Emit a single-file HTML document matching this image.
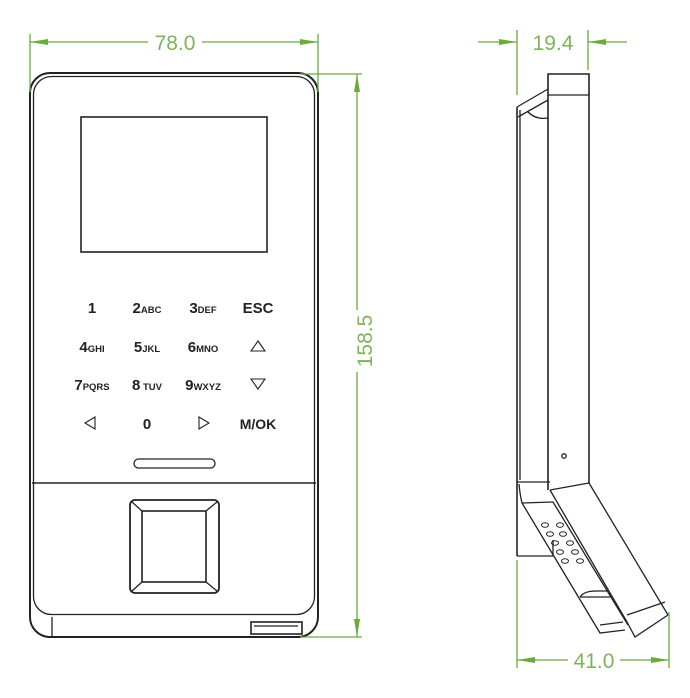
<!DOCTYPE html>
<html><head><meta charset="utf-8"><style>
html,body{margin:0;padding:0;background:#fff;}
svg{display:block;}
text{font-family:"Liberation Sans",sans-serif;}
</style></head><body>
<svg width="690" height="698" viewBox="0 0 690 698" xmlns="http://www.w3.org/2000/svg">
<g fill="none" stroke="#222" stroke-width="1.3">
<!-- front view -->
<rect x="30" y="73" width="288" height="564" rx="20" stroke-width="2"/>
<rect x="33.5" y="76.5" width="281" height="538" rx="18"/>
<line x1="52" y1="617" x2="52" y2="636"/>
<rect x="81" y="117" width="186" height="135" stroke-width="1.6"/>
<line x1="32" y1="483" x2="316" y2="483" stroke-width="1.6"/>
<rect x="134" y="459" width="81" height="9" rx="4.5"/>
<rect x="130" y="500" width="89" height="93" rx="5" stroke-width="1.8"/>
<rect x="142" y="511" width="64" height="71" stroke-width="1.6"/>
<line x1="132" y1="502" x2="142" y2="511"/><line x1="217" y1="502" x2="206" y2="511"/>
<line x1="132" y1="591" x2="142" y2="582"/><line x1="217" y1="591" x2="206" y2="582"/>
<rect x="251" y="622" width="51" height="12" stroke-width="1.6"/>
<line x1="254" y1="626" x2="298" y2="626"/>
<!-- side view -->
<path d="M548 490 L548 74 L589 74 L589 483" stroke-width="1.6"/>
<line x1="548" y1="95" x2="589" y2="95"/>
<line x1="517" y1="107" x2="517" y2="556" stroke-width="1.6"/>
<line x1="520" y1="110" x2="520" y2="480"/>
<path d="M517 107 L548 89 M518 117 L548 100 M528 112 Q536 120 548 118"/>
<circle cx="564" cy="456" r="2.2"/>
<path d="M517 482 L550 482"/>
<path d="M517 556 L553 556 L553 540"/>
<path d="M589 483 L668 615 M550 490 L589 483"/>
<path d="M550 490 L627 622 M668 615 L635 637 L627 622 M627 615 L665 602"/>
<path d="M519 484 Q520 495 522 503 L600 633 L625 630 M522 503 L553 502 L628 625 M600 625 L623 622"/>
<path d="M580 597 Q584 591 596 591 L608 591 M580 597 L610 597"/>
<g stroke-width="1">
<ellipse cx="545" cy="525" rx="3.5" ry="2.3"/><ellipse cx="560" cy="525" rx="3.5" ry="2.3"/>
<ellipse cx="550" cy="534" rx="3.5" ry="2.3"/><ellipse cx="563" cy="534" rx="3.5" ry="2.3"/>
<ellipse cx="555" cy="543" rx="3.5" ry="2.3"/><ellipse cx="570" cy="543" rx="3.5" ry="2.3"/>
<ellipse cx="560" cy="552" rx="3.5" ry="2.3"/><ellipse cx="575" cy="552" rx="3.5" ry="2.3"/>
<ellipse cx="565" cy="561" rx="3.5" ry="2.3"/><ellipse cx="580" cy="561" rx="3.5" ry="2.3"/>
</g>
<!-- keypad arrows -->
<path d="M258 341 L265 351 L251 351 Z M251 379 L265 379 L258 389 Z M95 417 L95 429 L85 423 Z M199 417 L199 429 L209 423 Z" stroke-width="1.1"/>
</g>
<!-- keypad text -->
<g fill="#222" font-weight="bold" font-size="15" text-anchor="middle">
<text x="92" y="313">1</text>
<text x="147" y="313">2<tspan font-size="9.5">ABC</tspan></text>
<text x="203" y="313">3<tspan font-size="9.5">DEF</tspan></text>
<text x="258" y="313">ESC</text>
<text x="92" y="352">4<tspan font-size="9.5">GHI</tspan></text>
<text x="147" y="352">5<tspan font-size="9.5">JKL</tspan></text>
<text x="203" y="352">6<tspan font-size="9.5">MNO</tspan></text>
<text x="92" y="390">7<tspan font-size="9.5">PQRS</tspan></text>
<text x="147" y="390">8<tspan font-size="9.5"> TUV</tspan></text>
<text x="203" y="390">9<tspan font-size="9.5">WXYZ</tspan></text>
<text x="147" y="429">0</text>
<text x="258" y="429" font-size="14">M/OK</text>
</g>
<!-- dimensions -->
<g stroke="#6aab3a" stroke-width="1.3" fill="#6aab3a">
<line x1="30" y1="34" x2="30" y2="92"/><line x1="318" y1="34" x2="318" y2="92"/>
<line x1="30" y1="42" x2="148" y2="42"/><line x1="202" y1="42" x2="318" y2="42"/>
<path d="M30 42 L48 39 L48 45 Z M318 42 L300 39 L300 45 Z" stroke="none"/>
<line x1="300" y1="74" x2="362" y2="74"/><line x1="300" y1="637" x2="362" y2="637"/>
<line x1="357" y1="74" x2="357" y2="310"/><line x1="357" y1="372" x2="357" y2="637"/>
<path d="M357 74 L354 92 L360 92 Z M357 637 L354 619 L360 619 Z" stroke="none"/>
<line x1="517" y1="30" x2="517" y2="95"/><line x1="588" y1="30" x2="588" y2="70"/>
<line x1="478" y1="42" x2="517" y2="42"/><line x1="588" y1="42" x2="627" y2="42"/>
<path d="M517 42 L499 39 L499 45 Z M588 42 L606 39 L606 45 Z" stroke="none"/>
<line x1="517" y1="560" x2="517" y2="668"/><line x1="669" y1="612" x2="669" y2="668"/>
<line x1="517" y1="660" x2="568" y2="660"/><line x1="620" y1="660" x2="669" y2="660"/>
<path d="M517 660 L535 657 L535 663 Z M669 660 L651 657 L651 663 Z" stroke="none"/>
</g>
<g fill="#7fb35a" font-size="21">
<text x="175" y="50" text-anchor="middle">78.0</text>
<text x="553" y="50" text-anchor="middle">19.4</text>
<text x="594" y="668" text-anchor="middle">41.0</text>
<text transform="translate(372,341) rotate(-90)" text-anchor="middle">158.5</text>
</g>
</svg>
</body></html>
